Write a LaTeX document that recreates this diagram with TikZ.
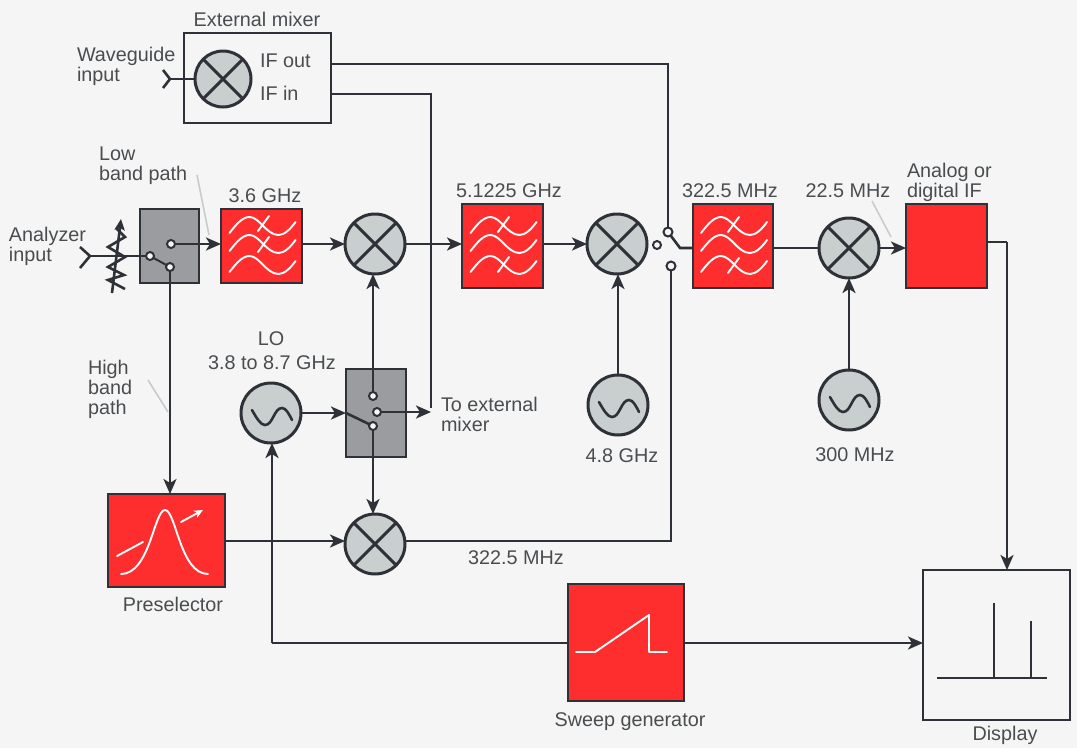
\documentclass[tikz,border=0pt]{standalone}
\usepackage{fontspec}
\setmainfont{Liberation Sans}
\usetikzlibrary{arrows.meta,calc}
\definecolor{bgc}{HTML}{F5F5F5}
\definecolor{redc}{HTML}{FF2E2E}
\definecolor{mixc}{HTML}{C9CFCF}
\definecolor{swc}{HTML}{9B9C9F}
\definecolor{linec}{HTML}{2E3238}
\definecolor{textc}{HTML}{4A4D50}
\definecolor{leadc}{HTML}{C8CCCC}
\tikzset{
  x=1pt,y=-1pt,
  conn/.style={draw=linec,line width=2.6pt},
  arr/.style={conn,-{Stealth[length=15pt,width=13pt,inset=4pt]}},
  lab/.style={text=textc,font=\fontsize{19.8}{20}\selectfont,align=left,inner sep=0pt,outer sep=0pt},
  labc/.style={lab,align=center},
  whitecurve/.style={draw=white,line width=1.9pt,line cap=round,line join=round},
  contact/.style={circle,draw=linec,fill=bgc,line width=2pt,minimum size=8pt,inner sep=0pt,outer sep=0pt},
  mixer/.style={circle,draw=linec,fill=mixc,line width=3pt,minimum size=60pt,inner sep=0pt,outer sep=0pt,
    path picture={\draw[linec,line width=3pt] (path picture bounding box.north west)--(path picture bounding box.south east)
      (path picture bounding box.north east)--(path picture bounding box.south west);}},
  osc/.style={circle,draw=linec,fill=mixc,line width=3pt,minimum size=60pt,inner sep=0pt,outer sep=0pt,
    path picture={\draw[linec,line width=2.6pt,line cap=round,shift={(path picture bounding box.center)}] (-19,-3)
      .. controls (-14,6) and (-10,12) .. (-6,12) .. controls (2,12) and (3,-5) .. (11,-5) .. controls (15,-5) and (18,1) .. (21,7);}},
  redbox/.style n args={2}{draw=linec,fill=redc,line width=2pt,minimum width=#1,minimum height=#2,inner sep=0pt,outer sep=0pt},
  swbox/.style n args={2}{draw=linec,fill=swc,line width=2.4pt,minimum width=#1,minimum height=#2,inner sep=0pt,outer sep=0pt},
  plainbox/.style n args={2}{draw=linec,fill=none,line width=2.8pt,minimum width=#1,minimum height=#2,inner sep=0pt,outer sep=0pt},
  leader/.style={draw=leadc,line width=1.6pt},
}
% one wave of a filter symbol, its left end at (#1,#2)
\newcommand{\fwave}[2]{\draw[whitecurve,shift={(#1,#2)}] (0,0) .. controls (7,-9) and (13,-16) .. (20,-16)
  .. controls (30,-16) and (37,2) .. (49,2) .. controls (55,2) and (61,-4) .. (66,-11);}
\newcommand{\fcross}[2]{\draw[whitecurve,shift={(#1,#2)}] (0,0) -- (11,-15);}
\newcommand{\filtersym}[2]{%
  \fwave{#1-32}{#2-13}\fwave{#1-32}{#2+5}\fwave{#1-32}{#2+26}}
\begin{document}
\begin{tikzpicture}
\useasboundingbox[fill=bgc] (0,0) rectangle (1077,748);
% boxes
\node[plainbox={147pt}{90pt}] (ext) at (257.5,78) {};
\node[mixer,minimum size=56pt] (mxe) at (223,79) {};
\node[lab,anchor=west] (ifout) at (260,61) {IF out};
\node[lab,anchor=west] (ifin) at (260,93) {IF in};
\node[swbox={59pt}{74pt}] (sw1) at (169.5,246) {};
\node[redbox={81pt}{74pt}] (f36) at (261.5,246) {};
\node[mixer] (m1) at (375,244) {};
\node[redbox={81pt}{84pt}] (f51) at (502.5,246) {};
\node[mixer] (m2) at (617,244) {};
\node[redbox={80pt}{84pt}] (f32) at (733,246) {};
\node[mixer] (m3) at (849,248) {};
\node[redbox={81pt}{84pt}] (fif) at (946.5,246) {};
\node[osc] (o48) at (618,405) {};
\node[osc] (o300) at (849,400) {};
\node[osc] (lo) at (271,413) {};
\node[swbox={60pt}{88pt}] (sw2) at (376,413) {};
\node[mixer] (m4) at (375,544) {};
\node[redbox={117pt}{93pt}] (pre) at (166.5,540.5) {};
\node[redbox={116pt}{117pt}] (swp) at (626,642.5) {};
\node[plainbox={147pt}{150pt}] (disp) at (996.5,645) {};
% free ends and bends
\coordinate (wgc) at (170,79);
\coordinate (wgt) at (163,70);
\coordinate (wgb) at (163,88);
\coordinate (anc) at (90,256);
\coordinate (ant) at (80,247);
\coordinate (anb) at (80,268);
\coordinate (armbend) at (680,248);
\coordinate (armsw2) at (346,413);
\coordinate (swbend) at (272,643);
\coordinate (ifbend) at (1007,242);
% filter symbols
\filtersym{261.5}{246}
\fcross{258}{231}\fcross{258}{252}
\filtersym{502.5}{246}
\fcross{498}{232}\fcross{498}{272}
\filtersym{733}{246}
\fcross{728}{232}\fcross{728}{273}
% preselector symbol
\draw[whitecurve] (121,574) .. controls (150,574) and (154,510) .. (165,510) .. controls (176,510) and (180,574) .. (208,574);
\draw[whitecurve] (117,556) -- (143,542);
\draw[whitecurve,-{Stealth[length=9pt,width=8pt]}] (181,522) -- (203,510);
% sweep symbol
\draw[whitecurve] (576,652) -- (595,652) -- (649,615) -- (649,652) -- (667,652);
% display symbol
\draw[conn] (937,678) -- (1047,678);
\draw[conn] (994,603) -- (994,678);
\draw[conn] (1031,621) -- (1031,678);
% contacts
\node[contact] (c1) at (150,256) {};
\node[contact] (c2) at (171,244) {};
\node[contact] (c3) at (170,267) {};
\node[contact] (c4) at (657,245) {};
\node[contact,minimum size=9pt] (c5) at (668,232) {};
\node[contact,minimum size=9pt] (c6) at (671,266) {};
\node[contact] (c7) at (373,396) {};
\node[contact] (c8) at (377,412) {};
\node[contact] (c9) at (373,426) {};
% connectors
\path[conn] (mxe) -- (wgc);
\path[conn] (wgt) -- (wgc) -- (wgb);
\path[conn,line width=2pt] (anc) -- (c1);
\path[conn] (ant) -- (anc) -- (anb);
\path[conn,line width=2pt] (c1) -- (c3);
\path[arr] (c2) -- (c2 -| f36.west);
\path[arr] (c3) -- (c3 |- pre.north);
\path[arr] (f36.east |- m1) -- (m1);
\path[arr] (m1) -- (m1 -| f51.west);
\path[arr] (f51.east |- m2) -- (m2);
\path[conn] (c5) -- (armbend) -- (armbend -| f32.west);
\path[conn] (c5) |- (ext.east |- 0,64);
\path[conn] (ext.east |- 0,94) -| (431,408);
\path[conn] (c6) |- (m4.east |- 0,541);
\path[conn] (f32.east |- m3) -- (m3);
\path[arr] (m3) -- (m3 -| fif.west);
\path[arr] (o48) -- (o48 |- m2.south);
\path[arr] (o300) -- (m3);
\path[arr] (lo) -- (lo -| sw2.west);
\path[conn] (armsw2) -- (c9);
\path[arr] (c7) -- (c7 |- m1.south);
\path[arr] (c8) -- (431,412);
\path[arr] (c9) -- (c9 |- m4.north);
\path[arr] (pre.east |- 0,541) -- (m4.west |- 0,541);
\path[conn] (swp.west |- swbend) -- (swbend);
\path[arr] (swbend) -- (swbend |- lo.south);
\path[arr] (swp.east |- swbend) -- (disp.west |- swbend);
\path[conn] (fif.east |- ifbend) -- (ifbend);
\path[arr] (ifbend) -- (ifbend |- disp.north);
% variable attenuator
\draw[conn,line join=miter] (116,228) -- (125,237) -- (108,247) -- (125,257) -- (108,267) -- (124,275) -- (108,280) -- (125,289);
\draw[conn,-{Stealth[length=11pt,width=10pt,inset=2pt]}] (112,293) -- (121,219);
% leader lines
\draw[leader] (197,175) -- (209,235);
\draw[leader] (148,380) -- (168,412);
\draw[leader] (872,201) -- (891,237);
% labels
\node[labc] (t1) at (257,19) {External mixer};
\node[lab,anchor=west] (t2) at (77,66) {Waveguide\\input};
\node[lab,anchor=west] (t3) at (99,165.5) {Low\\band path};
\node[labc] (t4) at (265,196) {3.6 GHz};
\node[lab,anchor=west] (t5) at (9,246) {Analyzer\\input};
\node[labc] (t6) at (509,191) {5.1225 GHz};
\node[labc] (t7) at (730,191) {322.5 MHz};
\node[labc] (t8) at (848,191) {22.5 MHz};
\node[lab,anchor=west] (t9) at (907,182) {Analog or\\digital IF};
\node[labc] (t10) at (271,339) {LO};
\node[labc] (t11) at (272,363) {3.8 to 8.7 GHz};
\node[lab,anchor=west] (t12) at (88,389) {High\\band\\path};
\node[lab,anchor=west] (t13) at (441,414) {To external\\mixer};
\node[labc] (t14) at (622,456) {4.8 GHz};
\node[labc] (t15) at (855,455) {300 MHz};
\node[labc] (t16) at (173,604) {Preselector};
\node[labc] (t17) at (516,558) {322.5 MHz};
\node[labc] (t18) at (630,722) {Sweep generator};
\node[labc] (t19) at (1005,735) {Display};
\end{tikzpicture}
\end{document}
